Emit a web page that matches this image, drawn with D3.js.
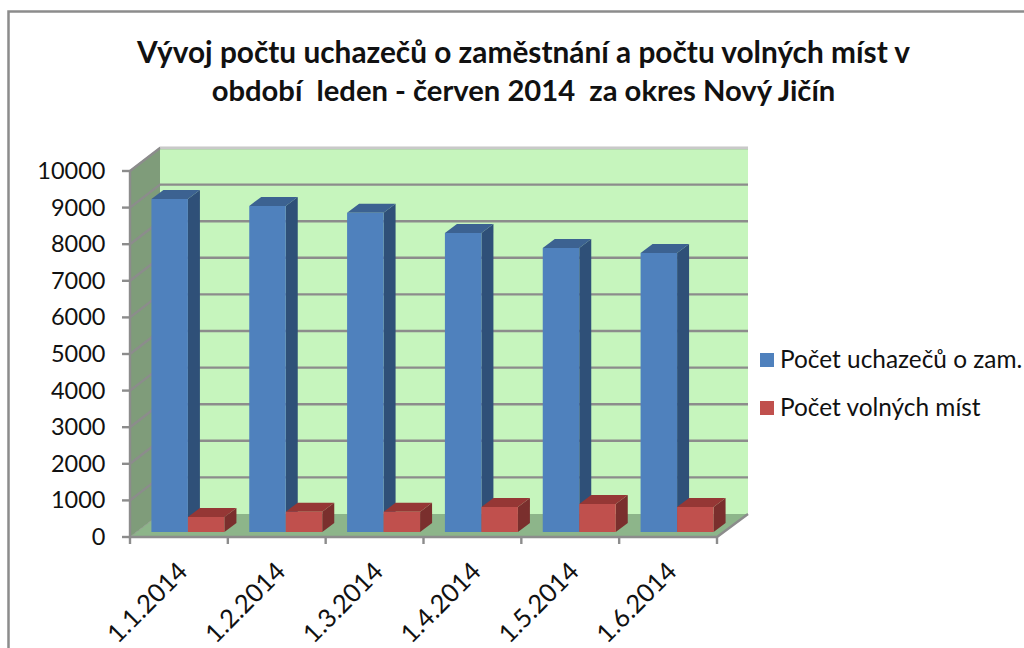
<!DOCTYPE html>
<html><head><meta charset="utf-8">
<script src="https://cdn.jsdelivr.net/npm/d3@7/dist/d3.min.js"></script>
<style>html,body{margin:0;background:#fff}svg{display:block}text{font-family:Lato,Carlito,sans-serif;fill:#111;white-space:pre}</style>
</head><body><svg width="1024" height="648"></svg>
<script>
const categories=["1.1.2014","1.2.2014","1.3.2014","1.4.2014","1.5.2014","1.6.2014"];
const seriesNames=["Počet uchazečů o zam.","Počet volných míst"];
const applicants=[9100,8910,8720,8170,7760,7620];
const vacancies=[410,555,550,680,765,680];
const yTicks=[0,1000,2000,3000,4000,5000,6000,7000,8000,9000,10000];
const titleLines=["Vývoj počtu uchazečů o zaměstnání a počtu volných míst v","období  leden - červen 2014  za okres Nový Jičín"];
const titleSizes=[29.8,29.2];
const colors={blue:"#4f81bd",blueTop:"#3c6291",blueSide:"#2f5078",red:"#c0504d",redTop:"#953735",redSide:"#7a2f2d",
 wall:"#c6f5bd",side:"#7f9c7a",floor:"#8db58a",grid:"#8c8c8c",frame:"#8c8c8c"};
const svg=d3.select("svg");
svg.append("path").attr("d","M8.5,648V11.5H1024").attr("fill","none").attr("stroke",colors.frame).attr("stroke-width",2.5);
titleLines.forEach((t,i)=>svg.append("text").attr("x",523.5).attr("y",63+i*38).attr("text-anchor","middle")
 .attr("font-size",titleSizes[i]).attr("font-weight",700).text(t));
const x=d3.scaleBand().domain(categories).range([130,717]);
const y=d3.scaleLinear().domain([0,10000]).range([537,171]);
const DX=30,DY=-23; // depth of the box
const bdx=12,bdy=-9; // depth of a bar
const inset=5; // bars stand slightly behind front edge
const poly=(pts,fill)=>svg.append("polygon").attr("points",pts.map(p=>p.join(",")).join(" ")).attr("fill",fill);
const [x0,x1]=x.range(),y0=y(0),yT=y(10000);
poly([[x0+DX,y0+DY],[x1+DX+1,y0+DY],[x1+DX+1,yT+DY],[x0+DX,yT+DY]],colors.wall);
poly([[x0,y0],[x0+DX,y0+DY],[x0+DX,yT+DY],[x0,yT]],colors.side);
poly([[x0,y0],[x1,y0],[x1+DX+1,y0+DY],[x0+DX,y0+DY]],colors.floor);
// gridlines
yTicks.forEach(t=>{
 svg.append("path").attr("d",`M${x0},${y(t)}L${x0+DX},${y(t)+DY}L${x1+DX+1},${y(t)+DY}`).attr("fill","none")
  .attr("stroke",t===0?"none":colors.grid).attr("stroke-width",2.4);
});
// box edges
svg.append("path").attr("d",`M${x0+DX},${yT+DY}H${x1+DX+1}`).attr("stroke","#c9c9c9").attr("stroke-width",2).attr("fill","none");
svg.append("path").attr("d",`M${x0},${y0}L${x0+DX},${y0+DY}`).attr("stroke","#8f9f8c").attr("stroke-width",1);
svg.append("path").attr("d",`M${x0},${yT}V${y0}H${x1}L${x1+DX+1},${y0+DY}`).attr("fill","none").attr("stroke",colors.grid).attr("stroke-width",2.4);
svg.append("path").attr("d",`M${x0},${yT}L${x0+DX},${yT+DY}`).attr("stroke",colors.grid).attr("stroke-width",1.5);
// axis ticks and labels
yTicks.forEach(t=>{
 svg.append("line").attr("x1",x0-8).attr("x2",x0).attr("y1",y(t)).attr("y2",y(t)).attr("stroke",colors.grid).attr("stroke-width",2.4);
 svg.append("text").attr("x",105.5).attr("y",y(t)+8).attr("text-anchor","end").attr("font-size",23.5).text(t);
});
[...categories.map(c=>x(c)),x1].forEach(v=>svg.append("line").attr("x1",v).attr("x2",v).attr("y1",y0).attr("y2",y0+7).attr("stroke",colors.grid).attr("stroke-width",2.4));
categories.forEach(c=>{
 const cx=x(c)+x.bandwidth()/2;
 svg.append("text").attr("transform",`translate(${cx-4},${559}) rotate(-45)`).attr("text-anchor","end").attr("dominant-baseline","hanging").attr("font-size",25.5).text(c);
});
// bars
const barW=36.5;
const barShift=9;
const base=y0-inset;
const h=v=>y0-y(v);
function bar(left,v,f,t,s){
 const top=base-h(v),r=left+barW;
 poly([[r,base],[r+bdx,base+bdy],[r+bdx,top+bdy],[r,top]],s);
 poly([[left,top],[r,top],[r+bdx,top+bdy],[left+bdx,top+bdy]],t);
 poly([[left,base],[r,base],[r,top],[left,top]],f);
}
categories.forEach((c,i)=>{
 const left=x(c)+x.bandwidth()/2-barW+barShift;
 bar(left,applicants[i],colors.blue,colors.blueTop,colors.blueSide);
});
categories.forEach((c,i)=>{
 const left=x(c)+x.bandwidth()/2+barShift;
 bar(left,vacancies[i],colors.red,colors.redTop,colors.redSide);
});
// legend
[[colors.blue,360],[colors.red,408]].forEach((d,i)=>{
 svg.append("rect").attr("x",760).attr("y",d[1]-7).attr("width",14).attr("height",14).attr("fill",d[0]);
 svg.append("text").attr("x",780).attr("y",d[1]+8).attr("font-size",24.4).text(seriesNames[i]);
});
</script></body></html>
